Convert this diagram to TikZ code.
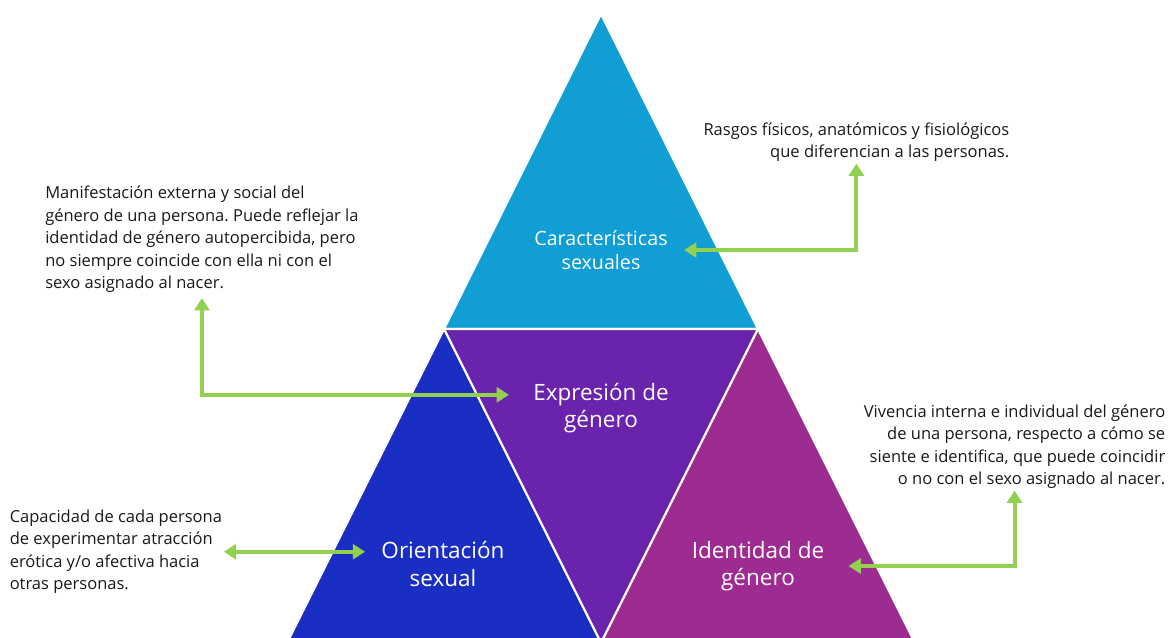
\documentclass[tikz,border=0pt]{standalone}
\usepackage{fontspec}
\setmainfont{Open Sans}
\usetikzlibrary{arrows.meta}
\frenchspacing

\definecolor{cielo}{RGB}{17,158,213}
\definecolor{violeta}{RGB}{106,35,173}
\definecolor{azul}{RGB}{26,46,196}
\definecolor{magenta}{RGB}{158,43,145}
\definecolor{verde}{RGB}{146,208,80}
\definecolor{texto}{RGB}{25,25,25}

\tikzset{
  tri/.style={draw=white, line width=1.2pt},
  lbl/.style={text=white, align=center, outer sep=6pt,
    font=\fontsize{12.8}{15.5}\selectfont},
  desc/.style={text=texto, inner sep=0pt, outer sep=1pt,
    font=\fontsize{9.4}{12.8}\selectfont},
  flecha/.style={draw=verde, line width=2.3pt,
    {Triangle[length=7pt,width=8.5pt]}-{Triangle[length=7pt,width=8.5pt]}}
}

\begin{document}
\begin{tikzpicture}[x=0.02cm, y=-0.02cm]
  \useasboundingbox (0,0) rectangle (1170,638);

  % piramide
  \begin{scope}
    \clip (0,0) rectangle (1170,638);
    \coordinate (cima) at (601,14);
    \coordinate (izq) at (444,329);
    \coordinate (der) at (758,329);
    \coordinate (baseA) at (287,643);
    \coordinate (baseB) at (601,643);
    \coordinate (baseC) at (915,643);
    \path[tri, fill=cielo] (cima) -- (der) -- (izq) -- cycle;
    \path[tri, fill=violeta] (izq) -- (der) -- (baseB) -- cycle;
    \path[tri, fill=azul] (izq) -- (baseB) -- (baseA) -- cycle;
    \path[tri, fill=magenta] (der) -- (baseC) -- (baseB) -- cycle;
  \end{scope}

  \node[lbl, font=\fontsize{11.2}{13.6}\selectfont] (carac) at (601,250) {Características\\sexuales};
  \node[lbl, outer sep=10.5pt] (expr) at (601,408) {Expresión de\\género};
  \node[lbl] (orient) at (443,564) {Orientación\\sexual};
  \node[lbl, outer sep=10.5pt] (ident) at (758,566) {Identidad de\\género};

  % descripciones
  \node[desc, align=right, anchor=north east] (rasgos) at (1011,121)
    {Rasgos físicos, anatómicos y fisiológicos\\que diferencian a las personas.};
  \node[desc, align=left, outer sep=3pt, anchor=north west] (manif) at (40,181)
    {Manifestación externa y social del\\género de una persona. Puede reflejar la\\identidad de género autopercibida, pero\\no siempre coincide con ella ni con el\\sexo asignado al nacer.};
  \node[desc, align=right, anchor=north east] (vivencia) at (1167,403)
    {Vivencia interna e individual del género\\de una persona, respecto a cómo se\\siente e identifica, que puede coincidir\\o no con el sexo asignado al nacer.};
  \node[desc, align=left, anchor=north west] (capac) at (8,508)
    {Capacidad de cada persona\\de experimentar atracción\\erótica y/o afectiva hacia\\otras personas.};

  \draw[flecha] (carac.east) -| (rasgos.south);
  \draw[flecha] (manif.south) |- ([yshift=7.5pt]expr.west);
  \draw[flecha] (ident.east) -| (vivencia.south);
  \draw[flecha] (capac.east) -- (capac.east -| orient.west);
\end{tikzpicture}
\end{document}
